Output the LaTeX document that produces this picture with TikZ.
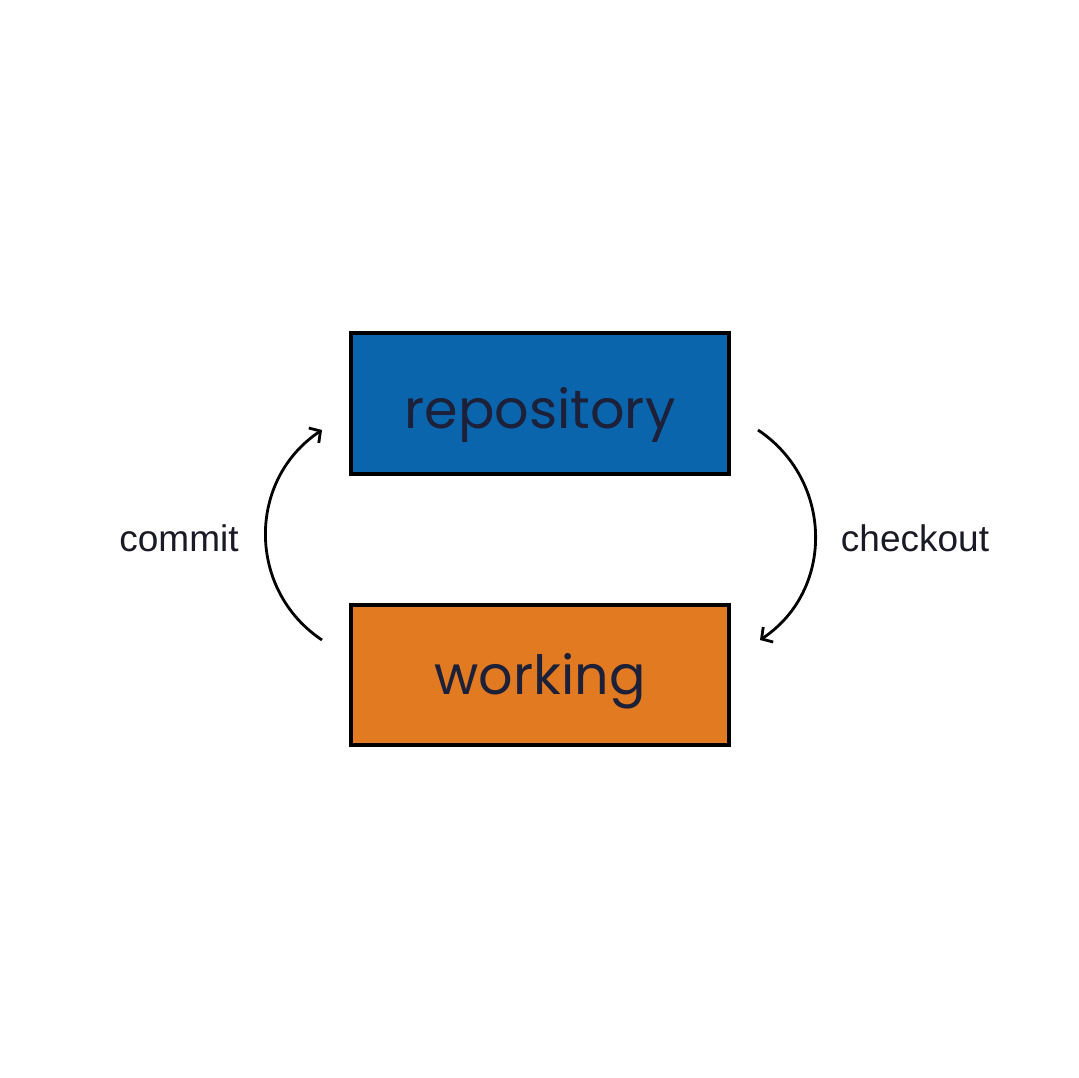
\documentclass[tikz,border=0pt]{standalone}
\usepackage{fontspec}
\setmainfont{Liberation Sans}
\newfontfamily\boxfont{Poppins}
\usetikzlibrary{arrows.meta}
\definecolor{repoblue}{HTML}{0B65AD}
\definecolor{workorange}{HTML}{E27A21}
\definecolor{boxtext}{HTML}{1C2038}
\definecolor{labeltext}{HTML}{1A1A26}
\begin{document}
\begin{tikzpicture}[x=1pt,y=1pt,
  areabox/.style={draw=black, line width=4.5pt, minimum width=378pt, inner sep=0pt,
    text=boxtext, font=\boxfont\fontsize{54}{54}\selectfont},
  flowarrow/.style={line width=2.8pt, -{Straight Barb[length=8pt,width=18pt,line width=2.8pt]}},
  flowlabel/.style={font=\fontsize{37}{37}\selectfont, text=labeltext, inner sep=0pt}]
\useasboundingbox (0,0) rectangle (1079,-1078);
\fill[white] (0,0) rectangle (1079,-1078);
\node[areabox, fill=repoblue, minimum height=141pt, text height=49pt, text depth=0pt] (repo) at (540,-403.5) {repository};
\node[areabox, fill=workorange, minimum height=140pt, text height=38pt, text depth=0pt] (work) at (540,-675) {working};
\coordinate (cs) at (322,-640);
\coordinate (ce) at (322,-430);
\coordinate (ks) at (758,-430);
\coordinate (ke) at (760,-640);
\draw[flowarrow] (cs) .. controls (247,-590) and (247,-480) .. (ce);
\draw[flowarrow] (ks) .. controls (833,-480) and (835,-590) .. (ke);
\node[flowlabel] (commit) at (179,-538) {commit};
\node[flowlabel] (checkout) at (915,-538) {checkout};
\end{tikzpicture}
\end{document}
